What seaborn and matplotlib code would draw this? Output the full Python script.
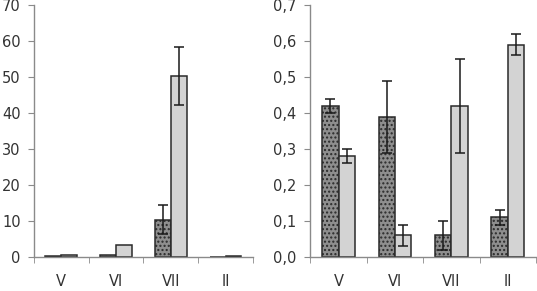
import matplotlib
matplotlib.use("Agg")
import matplotlib.pyplot as plt
import seaborn as sns
import pandas as pd
import numpy as np
from matplotlib.ticker import FuncFormatter, FixedLocator

# data
months = ["V", "VI", "VII", "II"]
series = ["a", "b"]

left_a = [0.3, 0.5, 10.3, 0.0]
left_b = [0.6, 3.2, 50.2, 0.3]
left_a_err = [0, 0, 4.0, 0]
left_b_err = [0, 0, 8.0, 0]

right_a = [0.42, 0.39, 0.06, 0.11]
right_b = [0.28, 0.06, 0.42, 0.59]
right_a_err = [0.02, 0.10, 0.04, 0.02]
right_b_err = [0.02, 0.03, 0.13, 0.03]

sns.set_style("white")
plt.rcParams["font.family"] = ["DejaVu Sans"]
plt.rcParams["hatch.linewidth"] = 1.0

axis_col = "#8a8a8a"
text_col = "#333333"


def draw_panel(ax, a, b, a_err, b_err, ymax, step, fmt, ypad):
    df = pd.DataFrame({
        "month": months * 2,
        "value": a + b,
        "series": [series[0]] * 4 + [series[1]] * 4,
    })
    sns.barplot(data=df, x="month", y="value", hue="series", order=months,
                palette=["#8e8e8e", "#d3d3d3"], width=0.58, errorbar=None,
                edgecolor="#2a2a2a", linewidth=1.1, legend=False, ax=ax)
    for bar in ax.containers[0]:
        bar.set_hatch("....")
        try:
            bar.set_hatchcolor("#c4c4c4")
        except AttributeError:
            pass
    for cont, errs in zip(ax.containers, [a_err, b_err]):
        for bar, e in zip(cont, errs):
            if e <= 0:
                continue
            ax.errorbar(bar.get_x() + bar.get_width() / 2, bar.get_height(),
                        yerr=e, fmt="none", ecolor="#1a1a1a", elinewidth=1.1,
                        capsize=3.5, capthick=1.1)
    ax.set_xlim(-0.5, 3.5)
    ax.set_ylim(0, ymax)
    ax.set_yticks(np.arange(0, ymax + step / 2, step))
    ax.yaxis.set_major_formatter(FuncFormatter(fmt))
    ax.xaxis.set_minor_locator(FixedLocator([-0.5, 0.5, 1.5, 2.5, 3.5]))
    ax.tick_params(axis="x", which="major", length=0, pad=12,
                   labelsize=10.5, labelcolor=text_col)
    ax.tick_params(axis="x", which="minor", length=4, color=axis_col,
                   direction="out", bottom=True)
    ax.tick_params(axis="y", length=4, color=axis_col, direction="out",
                   left=True, labelsize=10.5, labelcolor=text_col, pad=ypad)
    ax.set_xlabel("")
    ax.set_ylabel("")
    sns.despine(ax=ax)
    for s in ["left", "bottom"]:
        ax.spines[s].set_color(axis_col)
        ax.spines[s].set_linewidth(1.0)


fig = plt.figure(figsize=(5.37, 2.91), dpi=100)
ax1 = fig.add_axes([0.063, 0.117, 0.408, 0.866])
ax2 = fig.add_axes([0.578, 0.117, 0.42, 0.866])

draw_panel(ax1, left_a, left_b, left_a_err, left_b_err, 70, 10,
           lambda v, p: f"{v:.0f}", 5.5)
draw_panel(ax2, right_a, right_b, right_a_err, right_b_err, 0.7, 0.1,
           lambda v, p: f"{v:.1f}".replace(".", ","), 6)

fig.savefig("out.png", dpi=100)
